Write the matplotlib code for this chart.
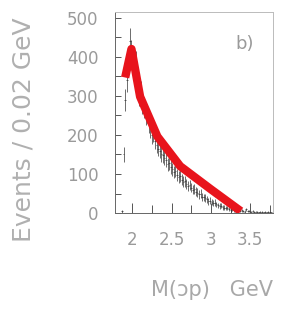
import numpy as np
import matplotlib
matplotlib.use("Agg")
import matplotlib.pyplot as plt
from matplotlib.ticker import MultipleLocator

# histogram: bins of 0.02 GeV, centres from 1.87 GeV
bin_start = 1.87
bin_width = 0.02
counts = [5, 150, 290, 340, 390, 440, 410, 390, 360, 385,
          340, 300, 310, 280, 270, 250, 255, 230, 215, 200,
          205, 185, 175, 165, 160, 150, 148, 140, 135, 125,
          128, 118, 112, 105, 108, 98, 92, 95, 85, 80,
          82, 75, 70, 72, 65, 60, 62, 55, 52, 48,
          50, 42, 40, 38, 35, 30, 32, 28, 25, 27,
          22, 20, 18, 19, 15, 14, 12, 13, 10, 9,
          10, 8, 7, 8, 6, 5, 7, 5, 4, 10,
          5, 6, 4, 5, 3, 4, 3, 2, 3, 3,
          2, 3, 2, 3, 2, 2]
errors = [4, 20, 28, 30, 32, 34, 32, 31, 30, 31,
          29, 27, 28, 26, 26, 25, 25, 24, 23, 22,
          22, 21, 21, 20, 20, 19, 19, 18, 18, 17,
          17, 17, 16, 16, 16, 15, 15, 15, 14, 14,
          14, 13, 13, 13, 12, 12, 12, 11, 11, 11,
          11, 10, 10, 10, 9, 9, 9, 8, 8, 8,
          7, 7, 7, 7, 6, 6, 5, 6, 5, 5,
          5, 4, 4, 4, 4, 3, 4, 3, 3, 4,
          3, 3, 2, 3, 2, 2, 2, 2, 2, 2,
          2, 2, 2, 2, 2, 2]

# red curve
curve_x = [1.91, 1.99, 2.10, 2.32, 2.61, 3.00, 3.38]
curve_y = [347, 420, 298, 196, 120, 61, 5]

centres = bin_start + bin_width * np.arange(len(counts))

fig = plt.figure(figsize=(2.91, 3.12), dpi=100)
ax = fig.add_axes([0.395, 0.317, 0.543, 0.645])

grey = '#9a9a9a'
ax.errorbar(centres, counts, yerr=errors, xerr=bin_width / 2, fmt='none',
            ecolor='#333333', elinewidth=0.5, capsize=0)
ax.plot(curve_x, curve_y, color='#e8141c', lw=6, solid_capstyle='butt',
        solid_joinstyle='round')

ax.set_xlim(1.78, 3.79)
ax.set_ylim(0, 515)
ax.xaxis.set_major_locator(MultipleLocator(0.5))
ax.xaxis.set_minor_locator(MultipleLocator(0.25))
ax.yaxis.set_major_locator(MultipleLocator(100))
ax.yaxis.set_minor_locator(MultipleLocator(50))
ax.xaxis.set_major_formatter(plt.FuncFormatter(lambda v, p: f"{v:g}"))

ax.tick_params(which='both', direction='in', top=False, right=False,
               color='#555555', width=0.7, labelcolor=grey, labelsize=12)
ax.tick_params(axis='x', which='major', length=7, pad=13)
ax.tick_params(axis='x', which='minor', length=6)
ax.tick_params(axis='y', which='major', length=4, pad=12)
ax.tick_params(axis='y', which='minor', length=4)

for side in ['top', 'right']:
    ax.spines[side].set_color('#bbbbbb')
    ax.spines[side].set_linewidth(0.7)
for side in ['left', 'bottom']:
    ax.spines[side].set_color('#666666')
    ax.spines[side].set_linewidth(0.7)

ax.text(0.82, 0.84, 'b)', transform=ax.transAxes, fontsize=13,
        color=grey, ha='center', va='center')

fig.text(0.08, 0.583, 'Events / 0.02 GeV', rotation=90, fontsize=18,
         color='#b0b0b0', ha='center', va='center')
fig.text(0.938, 0.07, 'M(ɔp)   GeV', fontsize=15, color='#a8a8a8',
         ha='right', va='center')

fig.savefig('out.png', dpi=100)
